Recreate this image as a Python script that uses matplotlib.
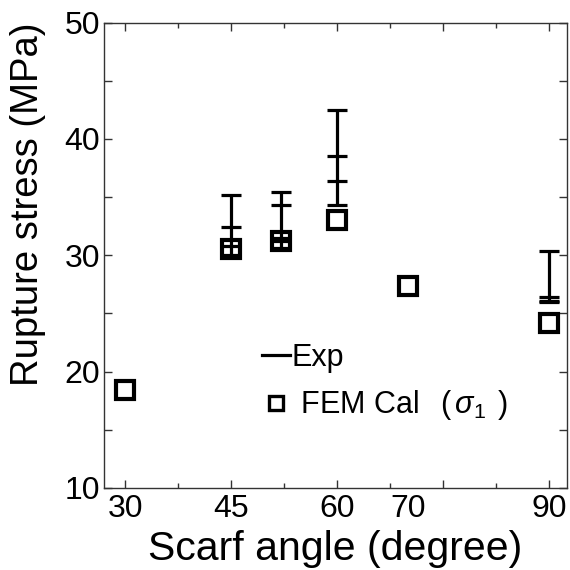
import matplotlib.pyplot as plt
from matplotlib.lines import Line2D
from matplotlib.ticker import MultipleLocator

plt.rcParams['font.family'] = ['Liberation Sans', 'DejaVu Sans']
plt.rcParams['mathtext.fontset'] = 'custom'
plt.rcParams['mathtext.rm'] = 'Liberation Sans'
plt.rcParams['mathtext.it'] = 'Liberation Sans:italic'

# FEM results (max principal stress)
fem_angles = [30, 45, 52, 60, 70, 90]
fem_sigma1 = [18.45, 30.5, 31.2, 33.0, 27.35, 24.2]

# experimental rupture stress, one list per scarf angle
exp_angles = [45, 52, 60, 90]
exp_45 = [35.2, 32.4, 30.8, 30.0]
exp_52 = [35.4, 34.3, 31.5, 31.2, 30.6]
exp_60 = [42.5, 38.5, 36.4, 34.3]
exp_90 = [30.35, 26.45, 26.1, 26.0]
exp_sets = [exp_45, exp_52, exp_60, exp_90]

fig = plt.figure(figsize=(5.7, 5.7), dpi=100)
ax = fig.add_axes([0.1825, 0.1439, 0.8122, 0.8166])

for a, vals in zip(exp_angles, exp_sets):
    ax.vlines(a, min(vals), max(vals), color='k', lw=2.3, zorder=2)
    ax.plot([a] * len(vals), vals, ls='none', marker='_', ms=15,
            mew=2.3, color='k', zorder=2)

ax.plot(fem_angles, fem_sigma1, ls='none', marker='s', ms=12.5, mew=3.0,
        mfc='none', mec='k', zorder=3)

ax.set_xlim(27, 92.5)
ax.set_ylim(10, 50)

ax.xaxis.set_major_locator(MultipleLocator(15))
ax.xaxis.set_minor_locator(MultipleLocator(7.5))
ax.yaxis.set_major_locator(MultipleLocator(10))
ax.yaxis.set_minor_locator(MultipleLocator(5))
ax.tick_params(which='both', direction='in', top=True, right=True,
               width=1.0, color='#333333')
ax.tick_params(which='major', length=5.5)
ax.tick_params(which='minor', length=3.5)
ax.tick_params(axis='y', which='minor', length=5.5)
ax.tick_params(axis='x', labelbottom=False)
ax.tick_params(axis='y', labelsize=23, pad=3)
for s in ax.spines.values():
    s.set_linewidth(1.0)
    s.set_color('#333333')

# angle labels sit on their own axis (70 is off the tick grid)
sec = ax.secondary_xaxis('bottom')
sec.set_xticks([30, 45, 60, 70, 90])
sec.tick_params(length=0, labelsize=23, pad=4)
sec.spines['bottom'].set_visible(False)

ax.set_xlabel('Scarf angle (degree)', fontsize=29.5, labelpad=27)
ax.set_ylabel('Rupture stress (MPa)', fontsize=27.5)
ax.yaxis.set_label_coords(-0.126, 0.61)

exp_handle = Line2D([], [], color='k', lw=2.3)
fem_handle = Line2D([], [], ls='none', marker='s', ms=10, mew=2.4,
                    mfc='none', mec='k')
ax.legend([exp_handle, fem_handle],
          ['Exp', ' FEM Cal  $\\,(\\,\\sigma_1\\;\\,)$'],
          loc='center left', bbox_to_anchor=(0.341, 0.226), frameon=False,
          fontsize=22, handlelength=0.92, handletextpad=0.05,
          labelspacing=0.5, borderpad=0, borderaxespad=0)

fig.savefig('out.png', dpi=100)
